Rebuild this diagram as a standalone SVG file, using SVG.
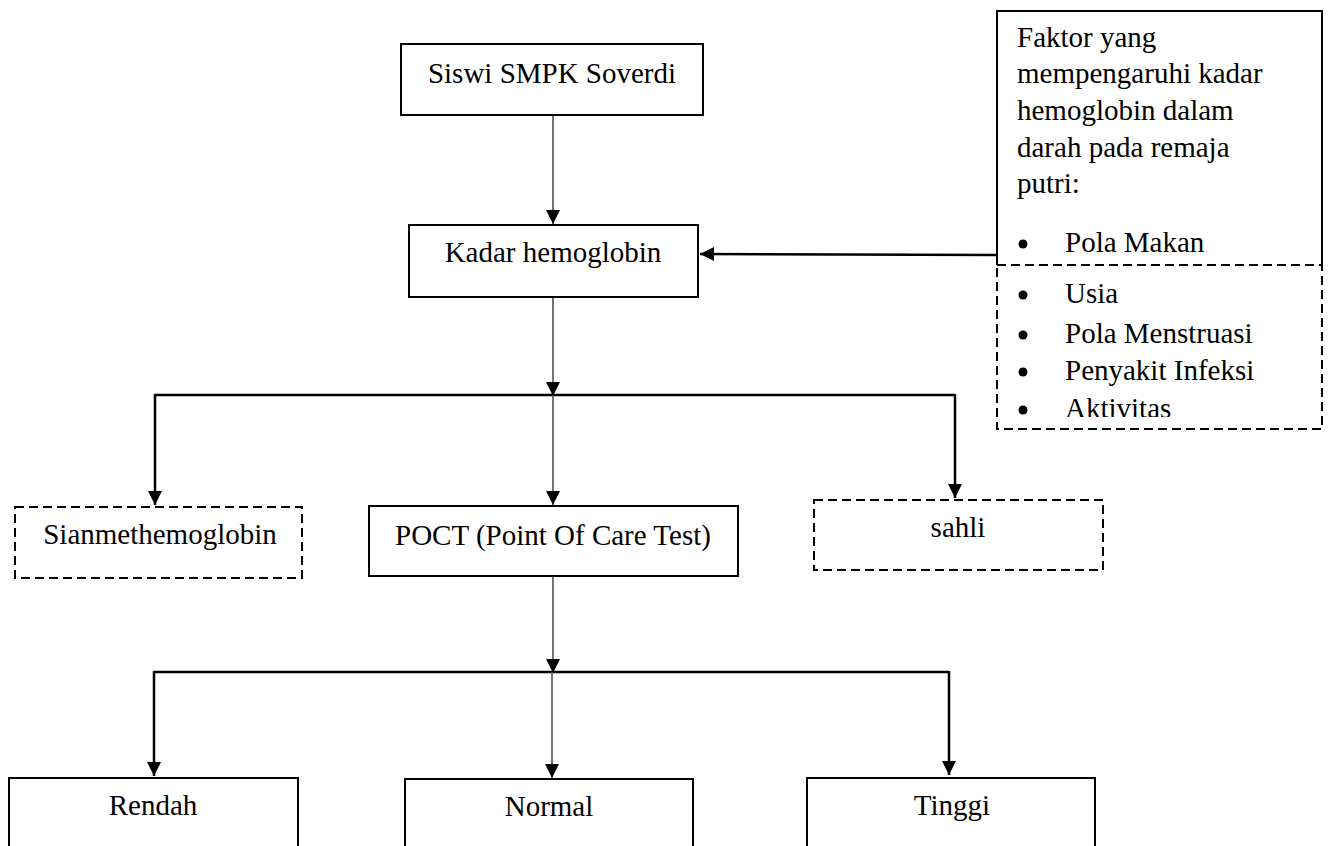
<svg xmlns="http://www.w3.org/2000/svg" width="1330" height="846" viewBox="0 0 1330 846">
<style>
.box{fill:#fff;stroke:#000;stroke-width:2}
.dash{fill:#fff;stroke:#000;stroke-width:2;stroke-dasharray:9 5}
.t{font-family:"Liberation Serif","Times New Roman",serif;font-size:29px;fill:#000}
.c{text-anchor:middle}
.thin{stroke:#444;stroke-width:1.5;fill:none}
.thick{stroke:#000;stroke-width:2.5;fill:none}
</style>
<defs>
<marker id="ah" markerUnits="userSpaceOnUse" markerWidth="14" markerHeight="16" refX="14" refY="7" orient="auto" viewBox="0 0 14 14">
<path d="M0,0 L14,7 L0,14 Z" fill="#000"/>
</marker>
</defs>
<g id="connectors">
<line class="thin" x1="553" y1="115" x2="553" y2="224" marker-end="url(#ah)"/>
<line class="thick" x1="997" y1="255" x2="700" y2="254" marker-end="url(#ah)"/>
<line class="thin" x1="553" y1="297" x2="553" y2="396" marker-end="url(#ah)"/>
<line class="thick" x1="155" y1="395" x2="955" y2="395"/>
<line class="thick" x1="155" y1="394" x2="155" y2="505" marker-end="url(#ah)"/>
<line class="thick" x1="955" y1="394" x2="955" y2="498" marker-end="url(#ah)"/>
<line class="thin" x1="553" y1="395" x2="553" y2="505" marker-end="url(#ah)"/>
<line class="thin" x1="553" y1="576" x2="553" y2="673" marker-end="url(#ah)"/>
<line class="thick" x1="154" y1="672" x2="949" y2="672"/>
<line class="thick" x1="154" y1="671" x2="154" y2="776" marker-end="url(#ah)"/>
<line class="thick" x1="949" y1="671" x2="949" y2="775" marker-end="url(#ah)"/>
<line class="thin" x1="552" y1="672" x2="552" y2="778" marker-end="url(#ah)"/>
</g>
<g id="siswi">
<rect class="box" x="401" y="44" width="302" height="71"/>
<text class="t c" x="552" y="83">Siswi SMPK Soverdi</text>
</g>
<g id="kadar">
<rect class="box" x="409" y="225" width="289" height="72"/>
<text class="t c" x="553" y="262">Kadar hemoglobin</text>
</g>
<g id="faktor">
<path d="M997,265 L997,11 L1322,11 L1322,265" fill="#fff" stroke="#000" stroke-width="2"/>
<text class="t" x="1017" y="47">Faktor yang</text>
<text class="t" x="1017" y="83">mempengaruhi kadar</text>
<text class="t" x="1017" y="120">hemoglobin dalam</text>
<text class="t" x="1017" y="157">darah pada remaja</text>
<text class="t" x="1017" y="193">putri:</text>
<circle cx="1023" cy="244" r="4.5"/>
<text class="t" x="1065" y="252">Pola Makan</text>
</g>
<g id="faktor-lain">
<rect class="dash" x="997" y="265" width="325" height="164"/>
<circle cx="1023" cy="295" r="4.5"/>
<text class="t" x="1065" y="303">Usia</text>
<circle cx="1023" cy="335" r="4.5"/>
<text class="t" x="1065" y="343">Pola Menstruasi</text>
<circle cx="1023" cy="372" r="4.5"/>
<text class="t" x="1065" y="380">Penyakit Infeksi</text>
<circle cx="1023" cy="410" r="4.5"/>
<clipPath id="cl"><rect x="997" y="265" width="325" height="152"/></clipPath>
<text class="t" x="1065" y="418" clip-path="url(#cl)">Aktivitas</text>
</g>
<g id="sianmet">
<rect class="dash" x="15" y="507" width="287" height="71"/>
<text class="t c" x="160" y="544">Sianmethemoglobin</text>
</g>
<g id="poct">
<rect class="box" x="369" y="506" width="369" height="70"/>
<text class="t c" x="553" y="545">POCT (Point Of Care Test)</text>
</g>
<g id="sahli">
<rect class="dash" x="814" y="500" width="289" height="70"/>
<text class="t c" x="958" y="537">sahli</text>
</g>
<g id="rendah">
<rect class="box" x="9" y="778" width="289" height="90"/>
<text class="t c" x="153" y="815">Rendah</text>
</g>
<g id="normal">
<rect class="box" x="405" y="779" width="288" height="90"/>
<text class="t c" x="549" y="816">Normal</text>
</g>
<g id="tinggi">
<rect class="box" x="807" y="778" width="288" height="90"/>
<text class="t c" x="952" y="815">Tinggi</text>
</g>
</svg>
